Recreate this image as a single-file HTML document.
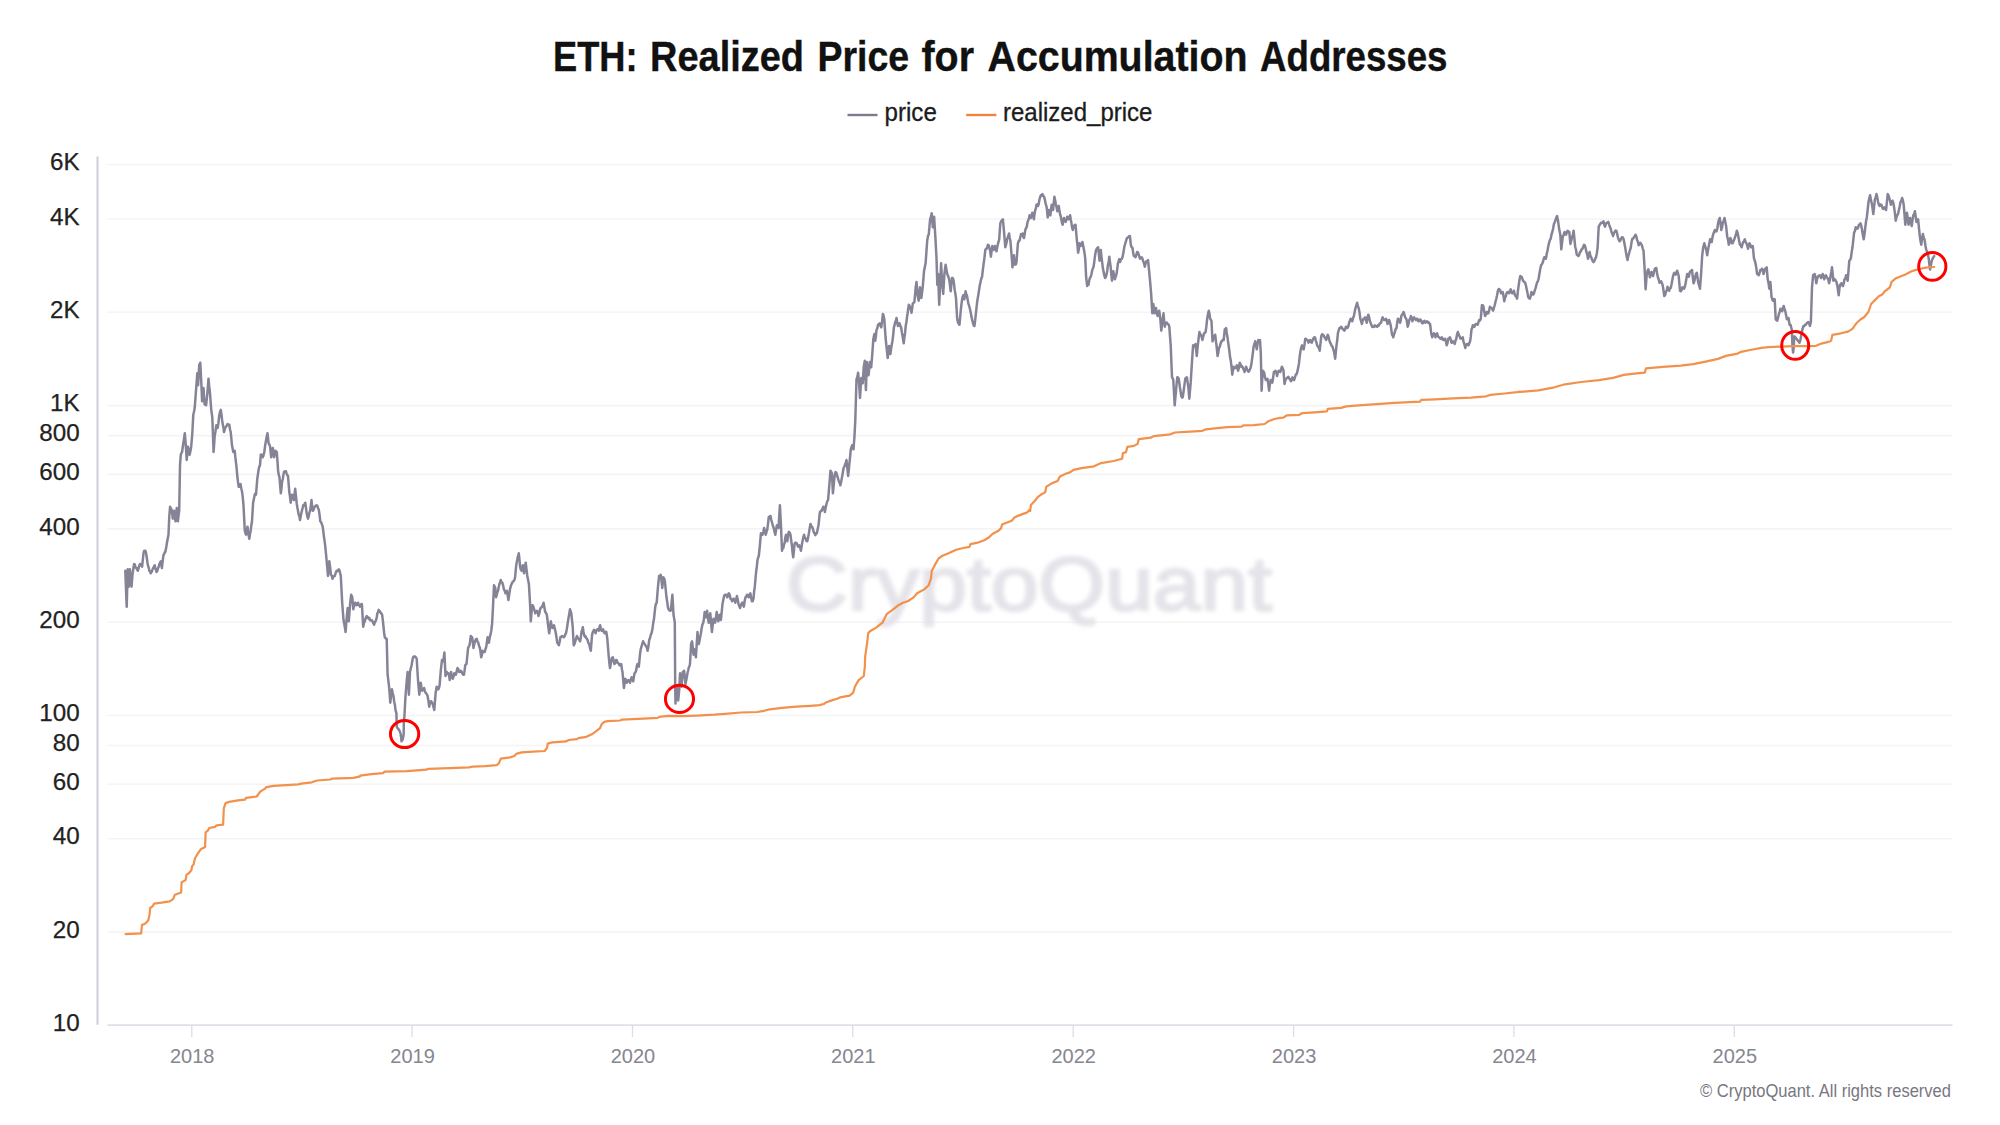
<!DOCTYPE html>
<html lang="en"><head><meta charset="utf-8"><title>ETH: Realized Price for Accumulation Addresses</title>
<style>html,body{margin:0;padding:0;background:#fff}body{width:2000px;height:1125px;overflow:hidden}svg{display:block}text{font-family:"Liberation Sans", Arial, sans-serif}</style></head><body>
<svg width="2000" height="1125" viewBox="0 0 2000 1125">
<defs><filter id="blur" x="-5%" y="-20%" width="110%" height="140%"><feGaussianBlur stdDeviation="2.2"/></filter></defs>
<rect width="2000" height="1125" fill="#ffffff"/>
<text id="title" y="71.2" font-size="42" font-weight="700" fill="#111111" stroke="#111111" stroke-width="0.4"><tspan x="553.0" textLength="84.5" lengthAdjust="spacingAndGlyphs">ETH:</tspan> <tspan x="650.0" textLength="154.0" lengthAdjust="spacingAndGlyphs">Realized</tspan> <tspan x="817.5" textLength="91.5" lengthAdjust="spacingAndGlyphs">Price</tspan> <tspan x="921.5" textLength="52.5" lengthAdjust="spacingAndGlyphs">for</tspan> <tspan x="987.5" textLength="260.0" lengthAdjust="spacingAndGlyphs">Accumulation</tspan> <tspan x="1260.0" textLength="187.5" lengthAdjust="spacingAndGlyphs">Addresses</tspan></text>
<line x1="847.5" y1="115" x2="877.5" y2="115" stroke="#7d7b8f" stroke-width="2.4"/>
<text id="lg1" x="884.5" y="121" font-size="25" textLength="52.3" lengthAdjust="spacingAndGlyphs" fill="#1c1c1c" stroke="#1c1c1c" stroke-width="0.3">price</text>
<line x1="966.2" y1="115" x2="996.4" y2="115" stroke="#f0843c" stroke-width="2.4"/>
<text id="lg2" x="1003" y="121" font-size="25" textLength="149.4" lengthAdjust="spacingAndGlyphs" fill="#1c1c1c" stroke="#1c1c1c" stroke-width="0.3">realized_price</text>
<line x1="107.5" y1="164.5" x2="1952.5" y2="164.5" stroke="#f4f4f5" stroke-width="1.6"/>
<text class="yl" x="79.6" y="170.1" text-anchor="end" font-size="24.2" fill="#222222" stroke="#222222" stroke-width="0.25">6K</text>
<line x1="107.5" y1="219.0" x2="1952.5" y2="219.0" stroke="#f4f4f5" stroke-width="1.6"/>
<text class="yl" x="79.6" y="224.6" text-anchor="end" font-size="24.2" fill="#222222" stroke="#222222" stroke-width="0.25">4K</text>
<line x1="107.5" y1="312.3" x2="1952.5" y2="312.3" stroke="#f4f4f5" stroke-width="1.6"/>
<text class="yl" x="79.6" y="317.9" text-anchor="end" font-size="24.2" fill="#222222" stroke="#222222" stroke-width="0.25">2K</text>
<line x1="107.5" y1="405.6" x2="1952.5" y2="405.6" stroke="#f4f4f5" stroke-width="1.6"/>
<text class="yl" x="79.6" y="411.2" text-anchor="end" font-size="24.2" fill="#222222" stroke="#222222" stroke-width="0.25">1K</text>
<line x1="107.5" y1="435.6" x2="1952.5" y2="435.6" stroke="#f4f4f5" stroke-width="1.6"/>
<text class="yl" x="79.6" y="441.2" text-anchor="end" font-size="24.2" fill="#222222" stroke="#222222" stroke-width="0.25">800</text>
<line x1="107.5" y1="474.4" x2="1952.5" y2="474.4" stroke="#f4f4f5" stroke-width="1.6"/>
<text class="yl" x="79.6" y="480.0" text-anchor="end" font-size="24.2" fill="#222222" stroke="#222222" stroke-width="0.25">600</text>
<line x1="107.5" y1="528.9" x2="1952.5" y2="528.9" stroke="#f4f4f5" stroke-width="1.6"/>
<text class="yl" x="79.6" y="534.5" text-anchor="end" font-size="24.2" fill="#222222" stroke="#222222" stroke-width="0.25">400</text>
<line x1="107.5" y1="622.2" x2="1952.5" y2="622.2" stroke="#f4f4f5" stroke-width="1.6"/>
<text class="yl" x="79.6" y="627.8" text-anchor="end" font-size="24.2" fill="#222222" stroke="#222222" stroke-width="0.25">200</text>
<line x1="107.5" y1="715.5" x2="1952.5" y2="715.5" stroke="#f4f4f5" stroke-width="1.6"/>
<text class="yl" x="79.6" y="721.1" text-anchor="end" font-size="24.2" fill="#222222" stroke="#222222" stroke-width="0.25">100</text>
<line x1="107.5" y1="745.5" x2="1952.5" y2="745.5" stroke="#f4f4f5" stroke-width="1.6"/>
<text class="yl" x="79.6" y="751.1" text-anchor="end" font-size="24.2" fill="#222222" stroke="#222222" stroke-width="0.25">80</text>
<line x1="107.5" y1="784.3" x2="1952.5" y2="784.3" stroke="#f4f4f5" stroke-width="1.6"/>
<text class="yl" x="79.6" y="789.9" text-anchor="end" font-size="24.2" fill="#222222" stroke="#222222" stroke-width="0.25">60</text>
<line x1="107.5" y1="838.8" x2="1952.5" y2="838.8" stroke="#f4f4f5" stroke-width="1.6"/>
<text class="yl" x="79.6" y="844.4" text-anchor="end" font-size="24.2" fill="#222222" stroke="#222222" stroke-width="0.25">40</text>
<line x1="107.5" y1="932.1" x2="1952.5" y2="932.1" stroke="#f4f4f5" stroke-width="1.6"/>
<text class="yl" x="79.6" y="937.7" text-anchor="end" font-size="24.2" fill="#222222" stroke="#222222" stroke-width="0.25">20</text>
<text class="yl" x="79.6" y="1031.0" text-anchor="end" font-size="24.2" fill="#222222" stroke="#222222" stroke-width="0.25">10</text>
<line x1="97.5" y1="156.4" x2="97.5" y2="1024.8" stroke="#cfcdda" stroke-width="2"/>
<line x1="107.5" y1="1025.1" x2="1952.5" y2="1025.1" stroke="#d3d2e0" stroke-width="1.3"/>
<line x1="191.8" y1="1025" x2="191.8" y2="1037" stroke="#dddce8" stroke-width="1.3"/>
<text class="xl" x="192.2" y="1062.8" text-anchor="middle" font-size="20" fill="#86868f">2018</text>
<line x1="412.1" y1="1025" x2="412.1" y2="1037" stroke="#dddce8" stroke-width="1.3"/>
<text class="xl" x="412.6" y="1062.8" text-anchor="middle" font-size="20" fill="#86868f">2019</text>
<line x1="632.5" y1="1025" x2="632.5" y2="1037" stroke="#dddce8" stroke-width="1.3"/>
<text class="xl" x="633.0" y="1062.8" text-anchor="middle" font-size="20" fill="#86868f">2020</text>
<line x1="852.8" y1="1025" x2="852.8" y2="1037" stroke="#dddce8" stroke-width="1.3"/>
<text class="xl" x="853.3" y="1062.8" text-anchor="middle" font-size="20" fill="#86868f">2021</text>
<line x1="1073.2" y1="1025" x2="1073.2" y2="1037" stroke="#dddce8" stroke-width="1.3"/>
<text class="xl" x="1073.7" y="1062.8" text-anchor="middle" font-size="20" fill="#86868f">2022</text>
<line x1="1293.6" y1="1025" x2="1293.6" y2="1037" stroke="#dddce8" stroke-width="1.3"/>
<text class="xl" x="1294.1" y="1062.8" text-anchor="middle" font-size="20" fill="#86868f">2023</text>
<line x1="1513.9" y1="1025" x2="1513.9" y2="1037" stroke="#dddce8" stroke-width="1.3"/>
<text class="xl" x="1514.4" y="1062.8" text-anchor="middle" font-size="20" fill="#86868f">2024</text>
<line x1="1734.3" y1="1025" x2="1734.3" y2="1037" stroke="#dddce8" stroke-width="1.3"/>
<text class="xl" x="1734.8" y="1062.8" text-anchor="middle" font-size="20" fill="#86868f">2025</text>
<text id="wm" x="1029" y="610" text-anchor="middle" font-size="76" textLength="486" lengthAdjust="spacingAndGlyphs" fill="#e3e3e9" stroke="#e3e3e9" stroke-width="2.2" filter="url(#blur)">CryptoQuant</text>
<path d="M125.3 570.7 L126.7 606.7 L127.7 569.3 L128.8 586.7 L129.9 569.3 L131.5 586.7 L132.5 574.7 L133.3 568.9 L134.1 564.0 L134.8 564.5 L135.4 566.9 L136.0 568.0 L136.6 567.9 L137.2 569.8 L137.9 570.7 L138.6 568.1 L139.3 565.5 L140.0 564.0 L140.7 564.9 L141.4 565.0 L142.1 566.7 L142.8 559.8 L143.5 553.3 L144.1 551.0 L144.8 550.7 L145.5 551.0 L146.1 553.3 L146.8 557.8 L147.5 562.7 L148.1 566.1 L148.7 567.4 L149.3 570.7 L150.0 571.3 L150.7 573.3 L151.3 572.3 L151.9 571.4 L152.5 569.3 L153.2 568.2 L154.0 566.5 L154.7 565.3 L155.3 568.7 L155.9 569.1 L156.5 572.0 L157.2 571.1 L158.0 568.1 L158.7 566.7 L159.4 564.0 L160.1 562.5 L160.8 561.3 L161.9 568.0 L162.7 560.9 L163.5 554.7 L164.1 554.5 L164.7 552.4 L165.3 552.0 L166.0 548.6 L166.6 545.1 L167.2 541.3 L167.9 537.7 L168.5 534.7 L169.3 516.0 L170.1 506.7 L170.8 508.1 L171.5 509.3 L172.1 513.0 L172.8 518.7 L173.5 513.6 L174.1 510.7 L174.8 515.3 L175.5 521.3 L176.1 515.1 L176.8 508.0 L177.9 521.3 L178.5 515.8 L179.2 510.7 L180.0 465.3 L180.8 454.7 L181.5 452.9 L182.1 452.0 L183.2 444.0 L184.0 438.9 L184.8 433.3 L185.9 446.7 L186.7 460.0 L187.3 453.2 L188.0 446.7 L188.8 450.2 L189.6 454.7 L190.4 451.4 L191.2 446.7 L192.3 433.3 L193.3 414.7 L194.0 411.8 L194.7 408.0 L196.0 390.7 L197.3 373.3 L198.1 385.3 L199.2 365.3 L200.3 362.7 L201.3 382.7 L202.1 401.3 L202.8 394.1 L203.5 388.0 L204.5 404.0 L205.3 404.8 L206.1 405.3 L206.8 398.7 L207.5 392.0 L208.5 378.7 L209.2 386.2 L209.9 392.0 L211.2 409.3 L212.3 417.3 L213.6 452.0 L214.7 436.0 L215.5 431.2 L216.3 425.3 L216.9 426.2 L217.6 428.0 L218.4 423.2 L219.2 416.0 L220.0 412.0 L220.8 409.9 L221.5 414.7 L222.1 420.0 L222.8 424.6 L223.4 427.4 L224.0 432.0 L224.6 430.2 L225.2 427.7 L225.9 426.7 L226.7 425.7 L227.5 424.0 L228.1 424.9 L228.7 424.7 L229.3 424.8 L230.0 429.3 L230.7 432.0 L231.3 438.2 L232.0 445.3 L232.7 449.1 L233.3 452.0 L234.0 451.6 L234.7 450.7 L235.3 456.9 L236.0 462.7 L236.7 469.2 L237.3 476.0 L238.0 482.1 L238.7 486.7 L239.3 486.8 L239.9 484.8 L240.5 484.0 L241.3 488.4 L242.1 492.0 L242.8 497.6 L243.5 505.3 L244.8 530.7 L245.5 533.2 L246.1 534.7 L246.8 531.0 L247.5 526.7 L248.1 531.9 L248.7 535.2 L249.3 538.7 L250.0 534.1 L250.7 530.7 L251.3 525.7 L252.0 521.3 L253.1 502.7 L253.9 499.1 L254.7 494.7 L255.3 493.5 L256.0 494.7 L257.3 478.7 L258.0 473.9 L258.7 469.3 L259.3 466.5 L260.0 465.3 L260.8 454.7 L261.4 454.6 L262.0 455.7 L262.7 457.3 L263.5 455.3 L264.3 452.0 L265.1 445.8 L265.9 441.3 L266.7 436.7 L267.5 433.3 L268.5 442.7 L269.3 444.4 L270.1 446.7 L271.2 457.3 L272.0 453.6 L272.8 448.0 L273.5 451.7 L274.1 457.3 L274.8 453.9 L275.5 450.7 L276.1 451.5 L276.8 452.0 L278.1 470.7 L278.8 474.9 L279.5 477.3 L280.8 493.3 L281.5 488.1 L282.1 481.3 L282.8 479.1 L283.4 474.8 L284.0 472.0 L284.6 471.5 L285.2 471.2 L285.9 471.2 L286.6 473.7 L287.3 475.1 L288.0 476.0 L289.3 492.0 L290.0 496.5 L290.7 502.7 L291.3 497.9 L292.0 494.7 L292.6 495.8 L293.2 497.8 L293.9 500.0 L294.5 494.4 L295.2 488.8 L296.8 504.0 L297.4 507.8 L298.0 510.7 L298.7 514.7 L299.3 516.1 L300.0 520.0 L300.7 516.5 L301.3 513.3 L302.0 510.4 L302.6 508.1 L303.2 505.3 L303.9 505.5 L304.6 503.9 L305.3 502.7 L306.0 508.0 L306.7 513.3 L307.3 516.3 L308.0 518.7 L308.7 516.4 L309.4 512.6 L310.1 510.7 L310.8 506.3 L311.5 500.0 L312.1 506.0 L312.8 510.7 L313.4 510.2 L314.0 508.5 L314.7 506.7 L315.3 506.0 L315.9 505.6 L316.5 505.3 L317.2 505.7 L318.0 508.2 L318.7 509.3 L319.5 514.3 L320.3 521.3 L321.1 522.1 L321.9 524.4 L322.7 526.7 L323.3 531.2 L324.0 537.3 L324.7 541.6 L325.3 546.7 L326.7 561.3 L328.0 576.0 L329.3 561.3 L330.1 566.9 L330.9 574.7 L331.7 575.5 L332.5 578.7 L333.2 576.9 L334.0 576.3 L334.7 576.0 L335.4 573.9 L336.1 571.7 L336.8 570.7 L337.5 571.1 L338.2 570.0 L338.9 569.3 L339.6 570.7 L340.2 573.4 L340.8 576.0 L342.1 601.3 L343.5 620.0 L344.1 623.0 L344.8 626.7 L345.6 632.0 L346.7 617.3 L347.7 608.0 L348.8 621.3 L350.1 604.0 L351.2 594.7 L352.3 597.3 L353.3 609.3 L354.1 605.7 L354.9 602.7 L355.7 603.1 L356.5 605.3 L357.3 604.8 L358.1 602.7 L358.8 605.2 L359.4 605.3 L360.0 606.7 L360.6 605.7 L361.2 604.2 L361.9 604.0 L363.2 626.7 L364.0 623.0 L364.8 621.3 L365.4 619.2 L366.0 617.4 L366.7 616.0 L367.4 617.7 L368.1 617.2 L368.8 618.7 L369.4 618.0 L370.0 620.3 L370.7 620.0 L371.3 620.5 L371.9 620.3 L372.5 621.3 L373.3 623.2 L374.1 624.8 L374.8 622.1 L375.4 621.6 L376.0 620.0 L376.7 617.8 L377.3 613.3 L378.0 612.5 L378.7 609.9 L379.3 611.2 L379.9 611.3 L380.5 612.5 L381.3 613.3 L382.1 614.7 L382.8 619.9 L383.5 626.7 L384.1 632.7 L384.8 637.3 L385.4 637.9 L386.0 638.7 L386.7 638.7 L387.6 674.7 L388.4 680.9 L389.2 688.0 L390.3 702.7 L391.1 695.3 L391.9 689.3 L392.7 693.4 L393.5 696.0 L394.1 701.2 L394.8 704.0 L395.5 710.2 L396.4 713.0 L396.6 721.9 L396.9 727.2 L399.2 730.1 L400.6 733.6 L401.2 737.9 L401.5 741.3 L402.8 739.3 L403.7 734.3 L403.8 723.7 L404.4 716.6 L405.5 696.0 L406.8 680.0 L407.6 672.0 L408.9 694.7 L410.0 672.0 L410.8 668.3 L411.6 665.3 L412.7 658.7 L413.4 656.8 L414.1 656.5 L414.8 656.5 L415.4 656.7 L416.0 657.6 L416.7 658.7 L418.0 680.0 L419.3 694.7 L420.0 689.1 L420.7 682.7 L421.5 687.8 L422.3 690.7 L422.9 689.7 L423.5 689.6 L424.1 688.0 L424.8 690.9 L425.4 692.3 L426.0 693.3 L426.8 694.3 L427.6 696.0 L428.4 700.7 L429.2 706.7 L430.0 703.3 L430.8 701.3 L431.4 701.5 L432.0 702.6 L432.7 704.0 L433.5 707.2 L434.3 709.9 L435.6 693.3 L436.7 686.7 L437.5 689.0 L438.3 689.3 L438.9 688.2 L439.6 685.3 L440.9 669.3 L442.0 660.0 L442.7 660.6 L443.3 661.3 L444.4 652.5 L445.5 676.0 L446.1 674.4 L446.8 672.0 L447.6 673.4 L448.4 673.3 L449.1 675.7 L449.7 680.0 L450.4 676.4 L451.1 672.0 L451.9 676.3 L452.7 678.7 L453.5 676.7 L454.3 673.3 L455.1 674.6 L455.9 674.7 L456.7 671.3 L457.5 668.0 L458.3 669.2 L459.1 672.0 L459.9 672.0 L460.7 670.7 L461.5 671.6 L462.3 673.3 L463.1 674.7 L463.9 674.7 L464.5 671.1 L465.2 665.3 L465.9 664.4 L466.5 664.0 L468.1 648.0 L468.8 646.4 L469.5 645.3 L470.1 641.7 L470.8 636.0 L471.5 637.2 L472.1 637.3 L472.8 641.9 L473.5 648.0 L474.3 643.8 L475.1 641.3 L475.9 639.2 L476.7 638.7 L477.5 641.6 L478.3 642.7 L479.1 646.1 L479.9 648.0 L480.5 651.8 L481.2 657.3 L481.9 654.8 L482.5 650.7 L483.2 652.3 L484.0 651.8 L484.7 652.0 L485.5 649.0 L486.3 646.7 L486.9 642.1 L487.6 637.3 L488.3 639.1 L488.9 642.7 L489.7 637.5 L490.5 634.7 L491.3 630.5 L492.1 624.0 L493.2 602.7 L494.0 585.3 L494.7 587.0 L495.3 588.0 L496.1 597.3 L496.8 594.7 L497.5 592.0 L498.1 590.4 L498.8 586.7 L499.4 584.3 L500.0 582.8 L500.7 580.0 L501.5 582.1 L502.3 582.7 L503.1 585.3 L503.9 589.3 L504.7 590.7 L505.5 593.3 L506.1 591.5 L506.8 590.7 L507.6 594.7 L508.4 600.0 L509.2 594.9 L510.0 589.3 L510.8 586.1 L511.6 584.0 L512.2 582.9 L512.8 581.6 L513.5 581.3 L514.3 580.3 L515.1 577.3 L515.7 570.3 L516.4 564.0 L517.1 560.6 L517.7 557.3 L518.8 553.3 L519.5 560.2 L520.1 566.7 L520.8 569.6 L521.5 570.7 L522.1 567.8 L522.8 565.3 L523.5 570.3 L524.1 573.3 L524.9 568.0 L525.7 562.7 L526.5 569.4 L527.3 576.0 L528.1 580.1 L528.9 584.0 L530.0 602.7 L530.8 621.3 L532.1 605.3 L532.9 605.5 L533.7 608.0 L534.5 610.5 L535.3 613.3 L536.1 611.2 L536.9 610.7 L537.7 612.1 L538.5 616.0 L539.3 613.4 L540.1 609.3 L540.8 607.7 L541.4 607.5 L542.0 606.7 L542.8 605.2 L543.6 602.7 L544.4 607.5 L545.2 612.0 L546.0 612.9 L546.8 614.7 L547.5 620.0 L548.1 625.3 L549.2 633.3 L550.0 627.5 L550.8 621.3 L551.6 625.3 L552.4 628.0 L553.2 625.7 L554.0 625.3 L554.8 628.8 L555.6 632.0 L556.4 636.7 L557.2 642.7 L558.0 643.5 L558.8 645.3 L559.6 642.0 L560.4 637.3 L561.2 636.7 L562.0 636.0 L562.8 636.8 L563.6 637.3 L564.4 636.6 L565.2 634.7 L566.0 633.0 L566.8 629.3 L567.6 623.9 L568.4 618.7 L569.2 614.3 L570.0 609.3 L570.7 611.3 L571.3 613.3 L572.0 620.0 L572.7 626.7 L573.7 645.3 L574.5 643.8 L575.3 641.3 L576.1 638.6 L576.9 636.0 L577.7 637.4 L578.5 638.7 L579.3 639.9 L580.1 641.3 L580.8 637.7 L581.5 632.0 L582.1 630.1 L582.8 627.2 L583.5 631.8 L584.1 634.7 L584.8 636.6 L585.4 636.1 L586.0 637.3 L586.8 638.8 L587.6 640.0 L588.4 643.1 L589.2 644.0 L590.0 648.1 L590.8 650.7 L592.1 634.7 L592.8 632.2 L593.4 630.9 L594.0 629.9 L594.8 631.5 L595.6 633.3 L596.4 630.3 L597.2 629.3 L598.0 629.4 L598.8 630.7 L599.5 627.0 L600.1 625.3 L600.8 628.4 L601.5 630.7 L602.3 630.7 L603.1 629.3 L603.9 632.3 L604.7 633.3 L605.5 631.8 L606.3 632.0 L607.3 638.7 L608.7 656.0 L609.3 662.5 L610.0 668.0 L610.7 664.4 L611.3 660.0 L612.1 657.8 L612.9 657.3 L613.7 661.6 L614.5 664.0 L615.3 663.1 L616.1 660.0 L616.8 660.2 L617.4 662.5 L618.0 662.7 L618.8 663.8 L619.6 665.3 L620.4 664.6 L621.2 664.0 L621.9 669.2 L622.5 672.0 L623.9 688.0 L624.5 684.1 L625.2 678.7 L626.0 679.9 L626.8 682.7 L627.6 681.2 L628.4 680.0 L629.2 681.4 L630.0 682.7 L630.8 679.6 L631.6 677.3 L632.4 678.6 L633.2 681.3 L633.9 676.9 L634.5 673.3 L635.3 672.5 L636.1 670.7 L636.8 666.2 L637.5 664.0 L638.1 665.5 L638.8 666.7 L639.5 659.9 L640.1 653.3 L640.8 648.8 L641.5 646.7 L642.3 643.6 L643.1 641.3 L643.9 643.0 L644.7 644.0 L645.5 645.4 L646.3 646.7 L646.9 647.6 L647.6 650.7 L648.4 646.5 L649.2 640.0 L650.0 638.0 L650.8 634.7 L651.6 633.1 L652.4 629.3 L653.2 623.1 L654.0 618.7 L654.7 612.1 L655.3 606.7 L656.0 603.6 L656.7 602.7 L658.0 586.7 L659.1 576.0 L659.9 576.0 L660.7 574.7 L661.5 580.8 L662.3 588.0 L663.3 577.3 L664.1 578.4 L664.9 581.3 L666.5 597.3 L667.3 602.5 L668.1 608.0 L668.8 609.9 L669.4 610.3 L670.0 610.7 L670.8 610.7 L672.4 594.7 L673.5 614.7 L674.1 618.1 L674.8 622.7 L675.2 685.0 L675.5 703.5 L676.3 685.0 L677.0 698.0 L677.6 688.0 L678.2 700.5 L679.2 690.0 L679.9 676.0 L680.1 673.3 L680.8 679.2 L681.5 686.7 L682.8 672.0 L683.5 672.3 L684.1 670.7 L684.8 677.5 L685.5 684.0 L686.1 681.1 L686.8 677.3 L687.5 673.0 L688.1 670.7 L688.8 667.4 L689.4 666.5 L690.0 664.0 L691.1 644.0 L692.1 641.3 L692.8 647.8 L693.5 654.7 L694.1 651.0 L694.8 649.3 L695.9 657.3 L697.5 632.0 L698.1 639.1 L698.8 644.0 L699.5 641.0 L700.1 637.3 L700.9 633.4 L701.7 628.0 L702.5 624.3 L703.3 622.7 L704.0 618.2 L704.7 612.0 L705.3 613.6 L706.0 617.3 L707.1 610.7 L707.9 617.5 L708.7 622.7 L709.5 617.9 L710.3 613.3 L711.9 632.0 L712.7 624.9 L713.5 618.7 L714.3 620.8 L715.1 622.7 L715.9 618.4 L716.7 612.0 L717.5 616.1 L718.3 621.3 L719.1 617.1 L719.9 614.7 L720.9 620.0 L722.5 604.0 L723.3 600.1 L724.1 596.0 L724.9 594.7 L725.7 594.7 L726.5 595.1 L727.3 597.3 L728.1 594.5 L728.9 593.3 L729.7 594.9 L730.5 598.7 L731.3 599.3 L732.1 601.3 L732.9 599.5 L733.7 598.7 L734.5 600.2 L735.3 602.7 L736.1 600.0 L736.9 596.0 L737.7 599.5 L738.5 604.0 L739.3 606.0 L740.1 608.0 L740.8 605.4 L741.4 604.2 L742.0 602.7 L742.6 602.8 L743.2 604.9 L743.9 606.7 L744.7 600.8 L745.5 597.3 L746.3 596.6 L747.1 594.7 L747.9 596.1 L748.7 597.3 L749.5 594.6 L750.3 593.3 L751.1 597.3 L751.9 601.3 L752.7 601.0 L753.5 598.7 L754.1 591.7 L754.8 586.7 L756.1 572.0 L756.8 566.8 L757.5 560.0 L758.1 557.8 L758.8 556.0 L759.9 545.3 L760.9 533.3 L761.7 534.0 L762.5 534.7 L763.3 532.1 L764.1 528.0 L764.9 531.1 L765.7 534.7 L766.5 532.0 L767.3 529.3 L768.0 523.8 L768.7 517.3 L769.3 518.0 L769.9 516.2 L770.5 516.0 L771.3 520.1 L772.1 522.7 L772.9 525.8 L773.7 528.0 L774.5 531.7 L775.3 534.7 L776.1 529.8 L776.9 525.3 L777.7 526.3 L778.5 528.0 L779.9 505.3 L780.9 524.0 L782.0 550.7 L782.7 548.3 L783.3 548.0 L784.0 544.4 L784.7 542.7 L785.3 537.6 L786.0 534.7 L786.7 538.6 L787.3 541.3 L788.0 536.1 L788.7 532.0 L789.3 532.1 L789.9 533.1 L790.5 534.7 L791.2 540.8 L791.9 545.3 L792.5 552.2 L793.2 557.3 L793.9 551.1 L794.5 544.0 L795.3 542.8 L796.1 542.7 L796.8 543.4 L797.4 545.0 L798.0 546.7 L798.7 545.9 L799.3 545.3 L800.1 547.2 L800.9 550.7 L801.7 545.9 L802.5 541.3 L803.3 537.4 L804.1 534.7 L804.9 537.8 L805.7 538.7 L806.5 541.1 L807.3 541.3 L808.1 537.4 L808.9 533.3 L809.7 528.1 L810.5 524.0 L811.3 526.5 L812.1 526.7 L812.9 528.9 L813.7 532.0 L814.5 533.3 L815.3 535.2 L816.1 533.1 L816.9 533.3 L817.7 529.0 L818.5 525.3 L819.2 518.6 L819.9 512.0 L820.5 511.6 L821.1 510.6 L821.7 510.7 L822.5 508.7 L823.3 506.7 L824.1 508.1 L824.9 512.0 L825.7 507.4 L826.5 504.0 L827.3 501.0 L828.1 500.0 L829.2 486.7 L830.5 470.7 L831.2 471.8 L831.9 473.3 L832.9 493.3 L834.3 478.7 L834.9 474.2 L835.6 472.0 L836.4 472.9 L837.2 476.0 L838.0 478.2 L838.8 481.3 L839.6 482.7 L840.4 485.3 L841.2 481.5 L842.0 477.3 L842.8 472.7 L843.6 468.0 L844.4 466.6 L845.2 464.0 L845.9 462.4 L846.5 460.0 L848.1 476.0 L848.8 469.9 L849.5 462.7 L850.1 456.9 L850.8 449.3 L851.5 447.1 L852.1 445.3 L852.8 446.9 L853.5 449.3 L854.5 436.0 L855.3 420.0 L856.5 379.3 L857.3 377.2 L858.1 372.7 L858.9 380.7 L860.0 398.0 L861.3 378.0 L862.0 379.8 L862.7 383.3 L863.7 367.3 L864.8 360.7 L865.9 390.0 L866.9 362.0 L867.7 369.2 L868.5 375.3 L869.2 369.0 L869.9 362.0 L870.5 363.6 L871.2 367.3 L872.3 354.0 L873.3 339.3 L874.4 334.0 L875.2 340.7 L875.9 336.1 L876.5 330.0 L877.3 328.3 L878.1 324.7 L878.9 324.3 L879.7 323.3 L880.5 325.9 L881.3 327.3 L882.1 321.4 L882.9 314.0 L883.6 315.8 L884.3 319.3 L885.6 338.0 L886.7 348.7 L887.7 358.0 L888.4 352.1 L889.1 346.0 L889.7 350.0 L890.4 354.0 L891.5 346.0 L892.5 340.7 L893.2 334.8 L893.9 327.3 L894.5 325.4 L895.2 322.0 L895.9 320.8 L896.5 318.0 L897.2 322.2 L897.9 326.0 L898.7 325.6 L899.5 323.3 L900.3 325.8 L901.1 327.3 L901.9 332.5 L902.7 336.7 L903.7 343.3 L904.4 337.4 L905.1 332.7 L905.7 326.2 L906.4 322.0 L907.1 316.5 L907.7 312.7 L908.8 304.7 L909.5 305.7 L910.1 307.3 L910.8 309.1 L911.5 312.7 L912.1 308.8 L912.8 303.3 L913.6 302.8 L914.4 302.0 L915.7 287.3 L916.5 282.0 L917.6 295.3 L918.7 300.7 L919.3 294.3 L920.0 287.3 L920.7 293.0 L921.3 298.0 L922.0 293.1 L922.7 287.3 L924.0 271.3 L924.8 267.3 L925.6 263.3 L927.2 240.7 L928.0 236.1 L928.8 234.0 L930.1 219.3 L930.9 217.0 L931.7 213.2 L932.8 227.3 L933.5 222.6 L934.1 216.7 L935.5 239.3 L936.5 258.0 L937.3 284.7 L938.1 274.0 L939.2 304.7 L940.0 287.3 L941.1 263.3 L942.1 282.0 L943.2 294.0 L944.3 275.3 L944.9 270.0 L945.6 264.7 L946.3 268.8 L946.9 272.7 L947.6 275.0 L948.3 276.7 L948.9 278.3 L949.6 282.0 L950.7 291.3 L951.3 285.2 L952.0 278.0 L952.7 278.1 L953.3 279.3 L954.0 283.6 L954.7 290.0 L955.3 293.4 L956.0 298.0 L957.1 318.0 L957.7 321.2 L958.4 323.3 L959.5 324.7 L960.8 310.0 L961.9 300.7 L962.5 297.3 L963.2 295.3 L964.3 299.3 L964.9 295.9 L965.6 291.3 L966.3 294.5 L966.9 295.3 L967.6 299.3 L968.3 303.3 L969.1 305.7 L969.9 308.7 L970.7 312.6 L971.5 316.7 L972.3 320.4 L973.1 323.3 L973.7 325.3 L974.4 326.0 L975.1 320.9 L975.7 315.3 L977.3 300.7 L978.1 296.3 L978.9 291.3 L979.7 285.7 L980.5 282.0 L981.3 278.5 L982.1 276.7 L982.9 269.4 L983.7 263.3 L984.5 257.3 L985.3 250.0 L986.0 248.9 L986.7 248.7 L987.3 246.8 L988.0 244.7 L988.8 245.5 L989.6 248.7 L990.3 251.6 L990.9 256.7 L991.6 250.8 L992.3 246.0 L992.9 248.4 L993.6 250.0 L994.3 248.5 L994.9 246.0 L995.7 249.1 L996.5 251.3 L997.3 246.8 L998.1 243.3 L999.2 239.3 L1000.3 223.3 L1000.9 222.0 L1001.6 220.7 L1002.3 219.9 L1002.9 219.3 L1004.0 231.3 L1005.3 247.3 L1006.0 244.6 L1006.7 242.0 L1007.3 238.4 L1008.0 236.7 L1009.1 233.5 L1009.7 238.0 L1010.4 240.7 L1011.7 256.7 L1012.5 267.3 L1013.2 260.6 L1013.9 255.3 L1014.5 261.1 L1015.2 264.7 L1015.9 264.4 L1016.5 262.0 L1017.9 243.3 L1018.7 240.8 L1019.5 240.7 L1020.3 237.2 L1021.1 234.0 L1021.9 234.5 L1022.7 233.5 L1023.3 236.9 L1024.0 238.0 L1024.7 233.9 L1025.3 230.0 L1026.0 228.1 L1026.7 227.3 L1027.3 223.3 L1028.0 220.7 L1028.8 219.1 L1029.6 215.3 L1030.3 216.0 L1030.9 218.0 L1031.6 215.5 L1032.3 212.7 L1033.1 215.1 L1033.9 219.3 L1034.5 214.7 L1035.2 210.0 L1035.9 208.4 L1036.5 204.7 L1037.3 204.5 L1038.1 206.0 L1038.8 203.4 L1039.5 199.3 L1040.1 197.4 L1040.8 195.3 L1041.6 195.6 L1042.4 194.0 L1043.2 195.8 L1044.0 196.7 L1044.8 199.4 L1045.6 203.3 L1046.7 207.3 L1047.7 217.5 L1048.4 214.7 L1049.1 210.0 L1049.7 212.6 L1050.4 215.3 L1051.1 208.9 L1051.7 204.7 L1052.4 206.1 L1053.1 210.0 L1053.7 203.3 L1054.4 196.7 L1055.1 199.9 L1055.7 203.3 L1056.5 206.9 L1057.3 211.3 L1058.0 207.8 L1058.7 206.0 L1059.3 209.6 L1060.0 214.0 L1060.7 216.2 L1061.3 219.3 L1062.0 222.8 L1062.7 224.7 L1063.3 220.1 L1064.0 218.0 L1064.8 220.6 L1065.6 222.0 L1066.4 220.1 L1067.2 216.7 L1068.0 217.1 L1068.8 219.3 L1069.5 218.4 L1070.1 215.3 L1070.8 219.8 L1071.5 223.3 L1072.1 227.6 L1072.8 230.0 L1073.5 227.5 L1074.1 226.0 L1074.8 225.0 L1075.5 224.7 L1076.8 239.3 L1077.5 245.7 L1078.1 252.7 L1078.8 249.2 L1079.5 243.3 L1080.1 244.9 L1080.8 246.0 L1081.6 243.7 L1082.4 242.0 L1083.2 245.8 L1084.0 250.0 L1084.7 254.1 L1085.3 259.3 L1086.1 276.7 L1087.2 286.0 L1087.9 284.2 L1088.5 284.7 L1089.2 280.4 L1089.9 278.0 L1090.7 276.8 L1091.5 274.0 L1092.1 270.8 L1092.8 268.7 L1093.5 267.0 L1094.1 263.3 L1094.8 257.4 L1095.5 252.7 L1096.1 250.1 L1096.8 248.7 L1097.5 248.0 L1098.1 247.3 L1098.8 253.3 L1099.5 260.7 L1100.1 255.0 L1100.8 250.0 L1101.5 257.1 L1102.1 262.0 L1102.8 267.6 L1103.5 271.3 L1104.3 275.4 L1105.1 278.0 L1105.7 277.0 L1106.4 275.3 L1107.2 271.0 L1108.0 264.7 L1108.7 261.7 L1109.3 256.7 L1110.0 262.1 L1110.7 267.3 L1111.3 274.5 L1112.0 280.7 L1112.7 274.9 L1113.3 271.3 L1114.1 275.9 L1114.9 279.3 L1115.7 276.5 L1116.5 274.0 L1117.2 269.3 L1117.9 263.3 L1118.5 261.7 L1119.2 259.3 L1120.0 262.0 L1120.6 260.4 L1121.2 259.1 L1121.9 258.7 L1122.7 256.4 L1123.5 252.0 L1124.3 247.1 L1125.1 244.0 L1125.9 241.3 L1126.7 238.7 L1127.5 237.6 L1128.3 237.3 L1129.1 236.2 L1129.9 236.0 L1130.9 245.3 L1131.7 247.2 L1132.5 248.0 L1133.2 253.1 L1133.9 256.0 L1134.7 256.1 L1135.5 257.3 L1136.3 255.0 L1137.1 252.0 L1137.7 252.2 L1138.4 253.3 L1139.2 256.1 L1140.0 258.7 L1140.8 257.7 L1141.6 257.3 L1142.4 258.5 L1143.2 261.3 L1144.0 263.2 L1144.8 266.7 L1145.6 263.3 L1146.4 261.3 L1147.2 261.6 L1148.0 260.0 L1149.1 270.7 L1150.1 281.3 L1151.2 294.7 L1152.3 313.3 L1153.3 304.0 L1154.0 308.7 L1154.7 313.3 L1155.3 310.0 L1156.0 308.0 L1156.8 313.0 L1157.6 316.0 L1158.4 314.5 L1159.2 310.7 L1160.3 318.7 L1161.3 330.7 L1162.4 321.3 L1163.5 313.3 L1164.1 319.9 L1164.8 326.7 L1165.5 323.8 L1166.1 322.7 L1166.9 322.6 L1167.7 324.0 L1168.5 324.4 L1169.3 326.7 L1170.7 345.3 L1172.0 377.3 L1172.7 378.3 L1173.3 380.0 L1174.7 405.3 L1176.0 390.7 L1176.7 383.0 L1177.3 377.3 L1178.0 377.4 L1178.7 378.7 L1179.3 382.8 L1180.0 388.0 L1180.7 392.2 L1181.3 396.0 L1182.0 397.6 L1182.7 397.3 L1183.3 393.3 L1184.0 388.0 L1184.7 383.1 L1185.3 378.7 L1186.1 377.8 L1186.9 377.3 L1187.6 382.1 L1188.3 386.7 L1189.3 398.7 L1190.7 382.7 L1192.0 361.3 L1193.1 345.3 L1193.7 345.7 L1194.4 346.7 L1195.5 344.0 L1196.1 349.6 L1196.8 356.0 L1197.5 348.3 L1198.1 342.7 L1198.8 336.8 L1199.5 332.0 L1200.1 334.5 L1200.8 334.7 L1201.6 336.4 L1202.4 340.0 L1203.2 336.7 L1204.0 333.3 L1204.8 333.0 L1205.6 332.0 L1206.4 326.2 L1207.2 318.7 L1208.0 314.0 L1208.8 310.7 L1209.5 314.1 L1210.1 318.7 L1210.8 319.4 L1211.5 321.3 L1212.5 341.3 L1213.2 339.1 L1213.9 337.3 L1214.5 335.9 L1215.2 334.7 L1215.9 341.1 L1216.5 345.3 L1217.6 356.0 L1218.3 352.8 L1218.9 348.0 L1219.7 346.9 L1220.5 344.0 L1221.3 341.5 L1222.1 341.3 L1222.9 339.5 L1223.7 340.0 L1224.8 329.3 L1225.5 329.2 L1226.1 328.0 L1226.8 333.6 L1227.5 337.3 L1228.1 341.9 L1228.8 346.7 L1229.5 352.2 L1230.1 357.3 L1230.8 360.8 L1231.5 366.7 L1232.3 374.7 L1232.9 370.4 L1233.6 366.7 L1234.4 368.4 L1235.2 368.0 L1236.0 367.4 L1236.8 365.3 L1237.5 368.9 L1238.1 370.7 L1238.9 367.8 L1239.7 362.7 L1240.5 364.1 L1241.3 366.7 L1242.1 366.4 L1242.9 368.0 L1243.7 369.2 L1244.5 372.0 L1245.3 369.4 L1246.1 366.7 L1246.9 369.1 L1247.7 370.7 L1248.5 371.7 L1249.3 370.7 L1250.1 369.2 L1250.9 366.7 L1251.6 362.4 L1252.3 357.3 L1252.9 352.6 L1253.6 346.7 L1254.4 343.9 L1255.2 341.3 L1256.0 345.5 L1256.8 349.3 L1257.6 343.6 L1258.4 340.0 L1259.2 340.7 L1260.0 340.0 L1260.8 353.3 L1261.6 390.7 L1262.7 370.7 L1263.5 371.4 L1264.3 373.3 L1265.1 377.7 L1265.9 380.0 L1266.7 379.7 L1267.5 378.7 L1268.3 384.2 L1269.1 390.7 L1269.9 384.4 L1270.7 380.0 L1271.5 380.7 L1272.3 382.7 L1273.1 377.7 L1273.9 372.0 L1274.7 371.8 L1275.5 370.7 L1276.3 372.4 L1277.1 376.0 L1277.9 372.3 L1278.7 370.7 L1279.5 371.4 L1280.3 372.0 L1281.1 369.5 L1281.9 366.7 L1282.7 368.4 L1283.5 370.7 L1284.5 384.0 L1285.3 380.7 L1286.1 378.7 L1286.9 378.2 L1287.7 377.3 L1288.5 376.8 L1289.3 378.7 L1290.1 379.5 L1290.9 381.3 L1291.7 379.2 L1292.5 377.3 L1293.3 379.8 L1294.1 380.0 L1294.9 377.7 L1295.7 374.7 L1296.5 374.3 L1297.3 372.0 L1298.1 367.9 L1298.9 364.0 L1299.7 356.7 L1300.5 350.7 L1301.3 347.4 L1302.1 345.3 L1302.9 348.4 L1303.7 349.3 L1304.5 344.5 L1305.3 338.7 L1306.1 338.9 L1306.9 340.0 L1307.7 340.2 L1308.5 342.7 L1309.3 341.3 L1310.1 340.0 L1310.9 341.8 L1311.7 342.7 L1312.5 340.5 L1313.3 338.7 L1314.1 337.4 L1314.9 337.3 L1315.7 340.4 L1316.5 342.7 L1317.3 345.7 L1318.1 346.7 L1318.9 348.0 L1319.7 350.7 L1321.3 336.0 L1322.1 334.2 L1322.9 334.7 L1323.7 335.6 L1324.5 337.3 L1325.3 338.5 L1326.1 340.0 L1326.9 337.8 L1327.7 334.7 L1328.5 336.6 L1329.3 340.0 L1330.1 342.7 L1330.9 344.0 L1331.7 345.9 L1332.5 346.7 L1333.3 349.3 L1334.1 352.0 L1335.2 358.7 L1335.9 351.3 L1336.5 345.3 L1337.2 340.5 L1337.9 333.3 L1338.7 330.2 L1339.5 328.0 L1340.3 328.1 L1341.1 326.7 L1341.9 327.4 L1342.7 329.3 L1343.5 329.3 L1344.3 330.7 L1345.1 329.3 L1345.9 326.7 L1346.7 326.8 L1347.5 328.0 L1348.3 326.4 L1349.1 322.7 L1349.9 320.7 L1350.7 318.7 L1351.5 319.2 L1352.3 321.3 L1353.1 318.0 L1353.9 316.0 L1354.7 311.8 L1355.5 308.0 L1356.3 305.7 L1357.1 302.7 L1357.9 306.4 L1358.7 308.0 L1359.5 312.5 L1360.3 318.7 L1361.1 321.1 L1361.9 324.0 L1362.7 320.6 L1363.5 318.7 L1364.3 319.1 L1365.1 317.3 L1365.9 319.1 L1366.7 322.7 L1367.5 317.6 L1368.3 314.7 L1369.1 316.9 L1369.9 321.3 L1370.7 323.1 L1371.5 325.3 L1372.3 327.0 L1373.1 326.7 L1373.9 326.9 L1374.7 325.3 L1375.5 326.3 L1376.3 326.1 L1377.1 326.9 L1377.9 325.3 L1378.7 325.7 L1379.5 324.0 L1380.3 322.9 L1381.1 322.7 L1381.9 319.2 L1382.7 317.3 L1383.5 319.7 L1384.3 320.0 L1385.1 319.9 L1385.9 318.7 L1386.7 320.2 L1387.5 324.0 L1388.3 322.4 L1389.1 320.0 L1389.9 322.4 L1390.7 325.3 L1391.3 329.7 L1392.0 334.7 L1392.7 335.6 L1393.3 337.3 L1394.1 333.9 L1394.9 332.0 L1395.7 328.8 L1396.5 328.0 L1397.2 322.8 L1397.9 318.7 L1398.5 319.0 L1399.2 320.0 L1400.0 322.7 L1400.6 321.1 L1401.2 316.7 L1401.9 314.7 L1402.7 314.4 L1403.5 312.0 L1404.3 314.0 L1405.1 317.3 L1405.9 318.3 L1406.7 320.0 L1407.7 326.7 L1408.5 324.1 L1409.3 320.0 L1410.1 318.8 L1410.9 316.0 L1411.7 318.5 L1412.5 321.3 L1413.3 318.3 L1414.1 317.3 L1414.9 318.6 L1415.7 320.0 L1416.5 319.0 L1417.3 318.7 L1418.1 321.0 L1418.9 321.3 L1419.7 319.7 L1420.5 319.5 L1421.3 321.0 L1422.1 323.2 L1422.9 323.2 L1423.7 321.3 L1424.5 320.9 L1425.3 322.7 L1426.1 321.8 L1426.9 321.3 L1427.7 322.5 L1428.5 322.1 L1429.3 323.7 L1430.1 324.0 L1431.2 333.3 L1432.3 337.3 L1433.1 334.2 L1433.9 333.3 L1434.7 334.2 L1435.5 337.3 L1436.3 334.3 L1437.1 333.3 L1437.9 336.3 L1438.7 337.3 L1439.5 337.4 L1440.3 338.7 L1441.1 338.6 L1441.9 337.3 L1442.7 339.6 L1443.5 340.0 L1444.3 338.9 L1445.1 338.7 L1445.9 341.5 L1446.7 345.3 L1447.5 343.1 L1448.3 338.7 L1449.1 338.3 L1449.9 337.3 L1450.7 339.4 L1451.5 342.7 L1452.3 342.5 L1453.1 341.3 L1453.9 342.2 L1454.7 344.0 L1455.5 340.8 L1456.3 338.7 L1457.1 334.1 L1457.9 332.0 L1458.7 334.6 L1459.5 336.0 L1460.3 338.3 L1461.1 338.7 L1461.9 338.3 L1462.7 337.3 L1463.5 341.7 L1464.3 344.0 L1465.3 348.0 L1466.1 344.9 L1466.9 344.0 L1467.7 344.0 L1468.5 345.3 L1469.3 343.3 L1470.1 341.3 L1470.8 336.4 L1471.5 329.3 L1472.1 328.4 L1472.8 325.3 L1473.6 325.7 L1474.4 326.7 L1475.2 324.7 L1476.0 324.0 L1476.8 324.2 L1477.6 324.8 L1478.4 322.4 L1479.2 320.0 L1480.0 320.4 L1480.8 318.7 L1481.9 305.3 L1482.7 305.2 L1483.5 306.7 L1484.3 312.1 L1485.1 316.0 L1485.9 314.6 L1486.7 312.0 L1487.5 313.4 L1488.3 313.3 L1489.1 310.7 L1489.9 306.7 L1490.7 307.6 L1491.5 308.0 L1492.3 308.9 L1493.1 310.7 L1493.9 307.6 L1494.7 305.3 L1495.5 301.7 L1496.3 298.7 L1497.1 295.3 L1497.9 290.7 L1498.7 289.0 L1499.5 289.3 L1500.3 290.6 L1501.1 293.3 L1501.9 293.3 L1502.7 292.0 L1503.5 296.1 L1504.3 301.3 L1505.1 297.6 L1505.9 296.0 L1506.7 292.9 L1507.5 292.0 L1508.3 292.8 L1509.1 293.3 L1509.9 290.9 L1510.7 289.3 L1511.5 292.5 L1512.3 293.3 L1513.1 292.9 L1513.9 290.7 L1514.7 294.5 L1515.5 296.0 L1516.3 296.8 L1517.1 298.7 L1517.9 291.0 L1518.7 285.3 L1519.5 279.7 L1520.3 276.0 L1521.1 276.7 L1521.9 277.3 L1522.7 279.8 L1523.5 281.3 L1524.3 281.9 L1525.1 282.7 L1525.9 285.4 L1526.7 289.3 L1527.5 293.1 L1528.3 297.3 L1529.1 298.3 L1529.9 298.7 L1530.7 295.8 L1531.5 292.0 L1532.3 293.9 L1533.1 294.7 L1533.9 293.5 L1534.7 290.7 L1535.5 288.4 L1536.3 285.3 L1537.1 282.4 L1537.9 281.3 L1538.7 278.2 L1539.5 273.3 L1540.3 268.8 L1541.1 265.3 L1541.9 264.2 L1542.7 262.7 L1543.5 259.7 L1544.3 257.3 L1545.1 258.6 L1545.9 258.7 L1546.7 253.9 L1547.5 250.7 L1548.3 246.1 L1549.1 242.7 L1549.9 240.1 L1550.7 238.7 L1551.5 234.5 L1552.3 232.0 L1553.1 228.9 L1553.9 224.0 L1554.7 222.2 L1555.5 220.0 L1556.3 217.6 L1557.1 216.0 L1558.1 221.3 L1559.2 229.3 L1560.3 234.7 L1561.3 249.3 L1562.1 242.4 L1562.9 236.0 L1563.7 235.2 L1564.5 232.0 L1565.3 233.4 L1566.1 234.7 L1566.9 232.0 L1567.7 230.7 L1568.5 232.1 L1569.3 232.0 L1570.4 244.0 L1571.2 241.0 L1572.0 237.3 L1572.8 235.2 L1573.6 230.7 L1575.2 246.7 L1576.0 249.7 L1576.8 254.7 L1577.6 255.3 L1578.4 256.0 L1579.2 254.8 L1580.0 252.0 L1580.8 251.5 L1581.6 249.3 L1582.4 249.0 L1583.2 246.7 L1584.0 244.9 L1584.8 245.3 L1585.6 248.2 L1586.4 252.0 L1587.2 254.4 L1588.0 258.7 L1588.8 254.6 L1589.6 252.0 L1590.4 255.8 L1591.2 257.3 L1592.0 259.5 L1592.8 261.3 L1593.6 262.1 L1594.4 260.8 L1595.2 258.8 L1596.0 257.3 L1596.8 253.5 L1597.6 248.0 L1598.7 226.7 L1599.5 225.2 L1600.3 224.0 L1601.1 222.8 L1601.9 222.7 L1602.7 222.7 L1603.5 221.3 L1604.3 225.1 L1605.1 226.7 L1605.9 223.7 L1606.7 222.7 L1607.5 222.5 L1608.3 221.9 L1609.1 224.6 L1609.9 226.7 L1610.7 228.7 L1611.5 232.0 L1612.3 233.7 L1613.1 236.0 L1613.9 233.1 L1614.7 232.0 L1615.5 230.6 L1616.3 230.7 L1617.1 233.4 L1617.9 237.3 L1618.7 239.6 L1619.5 241.3 L1620.3 240.4 L1621.1 238.7 L1621.9 237.3 L1622.7 237.3 L1623.5 238.8 L1624.3 242.7 L1625.1 246.9 L1625.9 252.0 L1626.7 256.4 L1627.5 260.0 L1628.3 255.9 L1629.1 253.3 L1629.9 250.2 L1630.7 248.0 L1631.5 242.6 L1632.3 238.7 L1633.1 238.7 L1633.9 237.3 L1634.7 236.1 L1635.5 234.7 L1636.3 236.3 L1637.1 240.0 L1637.9 241.7 L1638.7 245.3 L1639.5 243.7 L1640.3 242.7 L1641.1 244.1 L1641.9 245.3 L1642.7 248.3 L1643.5 250.7 L1644.5 266.7 L1645.6 289.3 L1646.7 274.7 L1647.5 271.0 L1648.3 269.3 L1649.1 272.5 L1649.9 277.3 L1650.7 275.1 L1651.5 272.0 L1652.3 273.8 L1653.1 276.0 L1653.9 272.1 L1654.7 269.3 L1655.5 268.2 L1656.3 268.0 L1657.1 273.8 L1657.9 277.3 L1658.7 279.5 L1659.5 282.7 L1660.3 282.2 L1661.1 281.3 L1661.9 283.0 L1662.7 285.3 L1663.5 290.5 L1664.3 296.0 L1665.1 294.9 L1665.9 292.0 L1666.7 290.5 L1667.5 286.7 L1668.3 288.3 L1669.1 290.7 L1669.9 288.6 L1670.7 288.0 L1671.5 284.5 L1672.3 280.0 L1673.1 276.0 L1673.9 273.3 L1674.7 272.8 L1675.5 274.7 L1676.3 273.6 L1677.1 270.7 L1677.9 273.2 L1678.7 276.0 L1680.0 290.7 L1680.8 291.3 L1681.6 290.1 L1682.4 287.3 L1683.2 287.8 L1684.0 288.7 L1684.8 286.9 L1685.6 283.3 L1686.4 278.6 L1687.2 274.0 L1688.0 274.5 L1688.8 276.7 L1689.6 272.8 L1690.4 271.3 L1691.2 270.8 L1692.0 270.0 L1692.8 277.0 L1693.6 283.3 L1694.4 281.0 L1695.2 276.7 L1696.0 273.7 L1696.8 272.7 L1697.6 278.3 L1698.4 283.3 L1699.2 285.7 L1700.0 288.7 L1701.1 274.0 L1702.1 256.7 L1703.2 247.3 L1704.3 243.3 L1705.1 246.0 L1705.9 248.7 L1706.5 251.2 L1707.2 255.3 L1707.9 250.8 L1708.5 247.3 L1709.3 243.4 L1710.1 239.3 L1710.9 241.7 L1711.7 242.0 L1712.5 237.1 L1713.3 234.0 L1714.1 232.0 L1714.9 230.0 L1715.7 231.4 L1716.5 231.3 L1717.3 228.5 L1718.1 223.3 L1718.9 219.9 L1719.7 218.0 L1720.5 223.1 L1721.3 230.0 L1722.1 227.1 L1722.9 222.0 L1723.7 221.1 L1724.5 218.0 L1725.3 222.0 L1726.1 226.0 L1727.2 236.7 L1728.0 239.6 L1728.8 244.7 L1729.6 242.4 L1730.4 238.0 L1731.2 240.4 L1732.0 243.3 L1732.8 243.0 L1733.6 240.7 L1734.4 239.0 L1735.2 236.7 L1736.0 234.5 L1736.8 230.8 L1737.6 232.9 L1738.4 236.7 L1739.2 241.4 L1740.0 244.7 L1740.8 245.3 L1741.6 247.3 L1742.4 244.4 L1743.2 242.0 L1744.0 241.5 L1744.8 239.3 L1745.6 242.1 L1746.4 243.3 L1747.2 245.2 L1748.0 248.7 L1748.8 245.3 L1749.6 243.3 L1750.4 245.1 L1751.2 247.3 L1752.0 246.7 L1752.8 246.0 L1753.9 258.0 L1754.7 260.4 L1755.5 263.3 L1756.3 267.8 L1757.1 274.0 L1757.9 274.1 L1758.7 275.3 L1759.5 273.2 L1760.3 270.0 L1761.1 270.3 L1761.9 268.7 L1762.7 270.2 L1763.5 274.0 L1764.3 271.5 L1765.1 268.7 L1765.9 268.6 L1766.7 267.3 L1767.7 279.3 L1768.5 282.9 L1769.3 288.7 L1770.4 282.0 L1771.5 296.7 L1772.3 299.5 L1773.1 300.7 L1773.9 299.1 L1774.7 299.3 L1775.7 319.3 L1776.5 320.2 L1777.3 320.7 L1778.1 317.5 L1778.9 314.0 L1779.7 311.6 L1780.5 308.7 L1781.3 309.5 L1782.1 311.3 L1782.9 308.5 L1783.7 306.0 L1784.5 308.9 L1785.3 311.3 L1786.1 315.2 L1786.9 319.3 L1787.7 319.0 L1788.5 318.0 L1789.6 324.7 L1790.6 325.0 L1791.7 329.3 L1792.1 335.7 L1792.4 344.9 L1793.1 352.6 L1793.8 346.3 L1794.2 336.4 L1794.9 336.7 L1797.8 340.6 L1799.5 342.8 L1800.6 339.2 L1801.5 333.9 L1802.4 329.3 L1803.5 326.0 L1804.3 326.0 L1805.1 324.7 L1805.9 324.7 L1806.7 323.3 L1807.5 322.6 L1808.3 322.0 L1809.1 323.2 L1809.9 326.0 L1810.9 322.0 L1812.0 287.3 L1813.1 275.3 L1813.9 274.6 L1814.7 274.0 L1815.5 277.7 L1816.3 283.3 L1817.1 279.1 L1817.9 276.7 L1818.7 275.8 L1819.5 275.3 L1820.3 275.7 L1821.1 278.0 L1821.9 275.9 L1822.7 274.0 L1823.5 276.7 L1824.3 279.3 L1825.1 276.2 L1825.9 275.3 L1826.7 277.0 L1827.5 278.0 L1828.3 279.7 L1829.1 283.3 L1829.9 279.9 L1830.7 275.3 L1831.3 272.0 L1832.0 267.3 L1832.7 274.0 L1833.3 280.7 L1834.1 278.9 L1834.9 279.3 L1835.7 280.7 L1836.5 282.0 L1837.6 287.3 L1838.7 295.3 L1839.3 289.7 L1840.0 284.7 L1840.7 285.1 L1841.3 283.3 L1842.1 283.8 L1842.9 286.0 L1843.7 283.5 L1844.5 279.3 L1845.3 278.5 L1846.1 275.3 L1846.9 278.6 L1847.7 280.7 L1849.3 260.7 L1850.1 260.1 L1850.9 258.0 L1851.7 251.9 L1852.5 247.3 L1854.1 232.7 L1854.9 231.2 L1855.7 227.3 L1856.5 228.0 L1857.3 228.7 L1858.1 227.8 L1858.9 224.7 L1859.7 225.0 L1860.5 223.3 L1861.3 225.9 L1862.1 230.0 L1862.9 235.4 L1863.7 239.3 L1864.5 234.4 L1865.3 227.3 L1866.1 221.0 L1866.9 216.7 L1868.5 202.0 L1869.3 198.3 L1870.1 195.3 L1870.9 199.9 L1871.7 203.3 L1872.5 207.8 L1873.3 214.0 L1874.9 199.3 L1875.7 197.6 L1876.5 194.0 L1877.3 197.5 L1878.1 202.0 L1878.9 204.8 L1879.7 206.0 L1880.5 204.5 L1881.3 204.7 L1882.1 206.7 L1882.9 208.7 L1883.7 209.0 L1884.5 207.3 L1885.3 208.0 L1886.1 210.0 L1887.7 194.0 L1888.5 195.4 L1889.3 198.0 L1890.1 201.3 L1890.9 204.7 L1891.7 202.2 L1892.5 200.7 L1893.3 202.9 L1894.1 207.3 L1894.9 213.2 L1895.7 220.7 L1896.5 217.2 L1897.3 215.3 L1898.1 213.7 L1898.9 210.0 L1899.7 206.4 L1900.5 202.0 L1901.3 200.9 L1902.1 198.0 L1902.9 200.5 L1903.7 204.7 L1905.3 224.7 L1906.1 219.4 L1906.9 212.7 L1907.7 217.7 L1908.5 224.7 L1909.3 221.4 L1910.1 218.0 L1910.9 222.3 L1911.7 226.0 L1912.5 220.3 L1913.3 215.3 L1914.1 214.2 L1914.9 211.3 L1915.7 216.8 L1916.5 222.0 L1917.3 220.9 L1918.1 219.3 L1919.7 235.3 L1920.5 240.9 L1921.3 244.7 L1922.1 238.4 L1922.9 234.0 L1923.7 237.8 L1924.5 239.3 L1925.5 246.0 L1926.2 249.6 L1927.6 253.1 L1928.7 258.4 L1929.4 264.5 L1930.1 269.5 L1931.0 264.5 L1931.9 260.2 L1933.3 257.4 L1934.2 256.1" fill="none" stroke="#858497" stroke-width="2.5" stroke-linejoin="round" stroke-linecap="round"/>
<path d="M125.6 934.1 L141.1 933.4 L142.0 924.9 L144.7 924.0 L148.2 920.4 L149.5 915.1 L150.2 908.0 L152.7 906.2 L154.1 903.6 L161.6 902.7 L169.6 901.4 L173.1 899.1 L174.9 894.7 L181.1 892.5 L181.6 882.2 L185.6 880.1 L186.4 874.8 L189.1 873.0 L191.4 870.1 L192.1 866.2 L193.6 864.4 L195.0 858.2 L197.1 854.7 L200.7 849.3 L205.1 847.0 L205.6 832.4 L207.8 830.7 L209.2 828.0 L214.9 826.8 L216.7 825.3 L223.1 824.6 L223.8 808.4 L225.6 803.1 L229.1 801.9 L238.0 800.4 L245.1 799.6 L246.0 797.8 L256.7 796.5 L260.2 791.6 L264.7 788.9 L266.4 787.1 L273.6 785.9 L298.4 784.4 L301.1 783.6 L311.8 782.3 L317.1 780.5 L330.4 779.5 L332.2 778.6 L353.6 777.9 L360.0 776.4 L360.3 775.6 L371.3 774.1 L382.9 773.1 L384.7 771.6 L406.9 771.1 L426.4 769.7 L428.2 768.8 L449.6 768.1 L469.1 767.4 L472.7 766.7 L485.1 766.1 L496.7 765.2 L499.0 763.1 L500.8 758.7 L510.0 757.4 L514.4 756.0 L516.2 753.9 L521.6 752.4 L533.1 751.6 L544.7 751.0 L547.0 748.0 L547.7 743.6 L552.7 742.3 L566.0 741.4 L568.7 740.0 L576.7 739.1 L578.4 738.2 L586.4 736.8 L591.8 734.3 L596.2 731.1 L600.0 728.1 L601.6 724.4 L604.2 721.8 L607.8 721.1 L620.2 720.5 L622.0 719.6 L643.3 718.6 L657.6 717.9 L659.3 716.8 L668.2 715.9 L682.4 716.1 L696.7 715.6 L714.4 714.7 L725.1 713.8 L741.1 712.5 L757.1 712.0 L764.2 710.8 L769.6 709.3 L782.0 707.9 L796.2 706.7 L810.4 705.8 L819.3 705.1 L823.8 704.0 L826.4 702.2 L831.8 700.4 L837.1 698.7 L840.0 697.4 L849.6 695.6 L853.1 692.9 L854.9 686.7 L858.4 680.4 L863.8 676.0 L864.8 667.1 L865.2 656.4 L867.0 644.0 L868.2 633.3 L870.0 631.2 L876.2 627.6 L882.4 622.7 L886.9 613.8 L892.2 610.2 L897.6 605.8 L902.9 602.8 L908.2 601.0 L913.6 597.4 L917.1 593.3 L924.2 589.4 L928.7 585.3 L931.0 578.2 L931.7 571.1 L934.9 564.9 L938.4 558.7 L942.0 556.0 L949.1 553.0 L956.2 549.8 L963.3 548.0 L969.6 546.8 L970.4 544.1 L977.6 542.7 L984.7 540.0 L989.1 537.3 L992.7 533.8 L998.0 531.1 L1001.0 528.4 L1002.1 524.5 L1007.8 522.2 L1012.2 520.4 L1014.0 517.8 L1018.4 515.6 L1027.3 512.4 L1029.5 509.8 L1030.2 511.1 L1030.9 504.9 L1034.4 501.3 L1038.0 496.9 L1040.7 494.8 L1045.1 492.4 L1046.4 486.6 L1051.3 483.6 L1057.6 480.9 L1059.9 476.4 L1065.6 473.8 L1070.0 472.4 L1073.6 469.9 L1081.6 468.1 L1094.0 466.3 L1101.1 463.1 L1113.6 461.0 L1122.1 458.8 L1122.8 453.3 L1126.0 452.1 L1127.4 446.8 L1134.0 445.9 L1137.6 443.9 L1138.8 439.1 L1150.9 437.7 L1153.6 436.1 L1170.4 434.3 L1174.9 432.5 L1190.0 431.6 L1202.4 430.8 L1206.0 429.3 L1214.9 428.4 L1227.3 427.2 L1241.6 426.7 L1243.3 425.4 L1254.0 425.2 L1264.7 424.0 L1268.2 421.3 L1274.4 419.0 L1280.0 417.8 L1283.3 417.6 L1286.9 415.3 L1299.3 414.8 L1302.0 413.2 L1314.4 412.3 L1326.9 411.4 L1327.8 408.8 L1341.1 407.9 L1346.4 406.4 L1355.3 405.6 L1369.6 404.7 L1394.4 402.9 L1420.2 401.6 L1421.1 399.9 L1435.3 399.3 L1453.1 398.4 L1470.9 397.6 L1486.0 396.3 L1490.4 394.9 L1504.7 393.5 L1517.1 392.2 L1520.0 391.7 L1520.7 391.8 L1538.4 390.4 L1554.4 387.3 L1563.3 384.7 L1581.1 382.0 L1598.9 380.2 L1613.1 377.9 L1623.8 374.9 L1634.4 373.6 L1644.8 372.6 L1646.0 368.3 L1662.9 366.9 L1680.7 365.6 L1693.1 364.2 L1705.6 361.6 L1718.0 358.9 L1726.0 355.9 L1737.6 353.6 L1741.1 351.8 L1750.0 350.0 L1760.0 348.2 L1768.0 347.2 L1780.4 346.7 L1794.7 346.1 L1808.9 346.1 L1816.0 345.8 L1821.3 343.6 L1828.4 341.9 L1831.1 340.8 L1832.4 334.8 L1840.9 333.3 L1848.0 331.6 L1852.4 328.9 L1856.9 322.7 L1860.4 319.5 L1864.0 317.3 L1868.4 312.0 L1871.1 304.0 L1874.7 300.4 L1879.1 296.0 L1882.7 294.2 L1884.4 291.6 L1889.8 287.5 L1891.6 281.8 L1896.0 278.2 L1904.9 274.7 L1912.0 271.1 L1919.1 269.0 L1926.2 267.6 L1934.2 267.0" fill="none" stroke="#f2914b" stroke-width="2.2" stroke-linejoin="round" stroke-linecap="round"/>
<ellipse cx="404.6" cy="734.0" rx="14.15" ry="13.60" fill="none" stroke="#ff0000" stroke-width="3"/>
<ellipse cx="679.5" cy="698.9" rx="14.05" ry="13.60" fill="none" stroke="#ff0000" stroke-width="3"/>
<ellipse cx="1795.2" cy="345.4" rx="13.50" ry="13.95" fill="none" stroke="#ff0000" stroke-width="3"/>
<ellipse cx="1932.3" cy="266.4" rx="13.60" ry="13.95" fill="none" stroke="#ff0000" stroke-width="3"/>
<text id="cr" x="1951" y="1097" text-anchor="end" font-size="18.2" textLength="251" lengthAdjust="spacingAndGlyphs" fill="#777781">© CryptoQuant. All rights reserved</text>
</svg></body></html>
